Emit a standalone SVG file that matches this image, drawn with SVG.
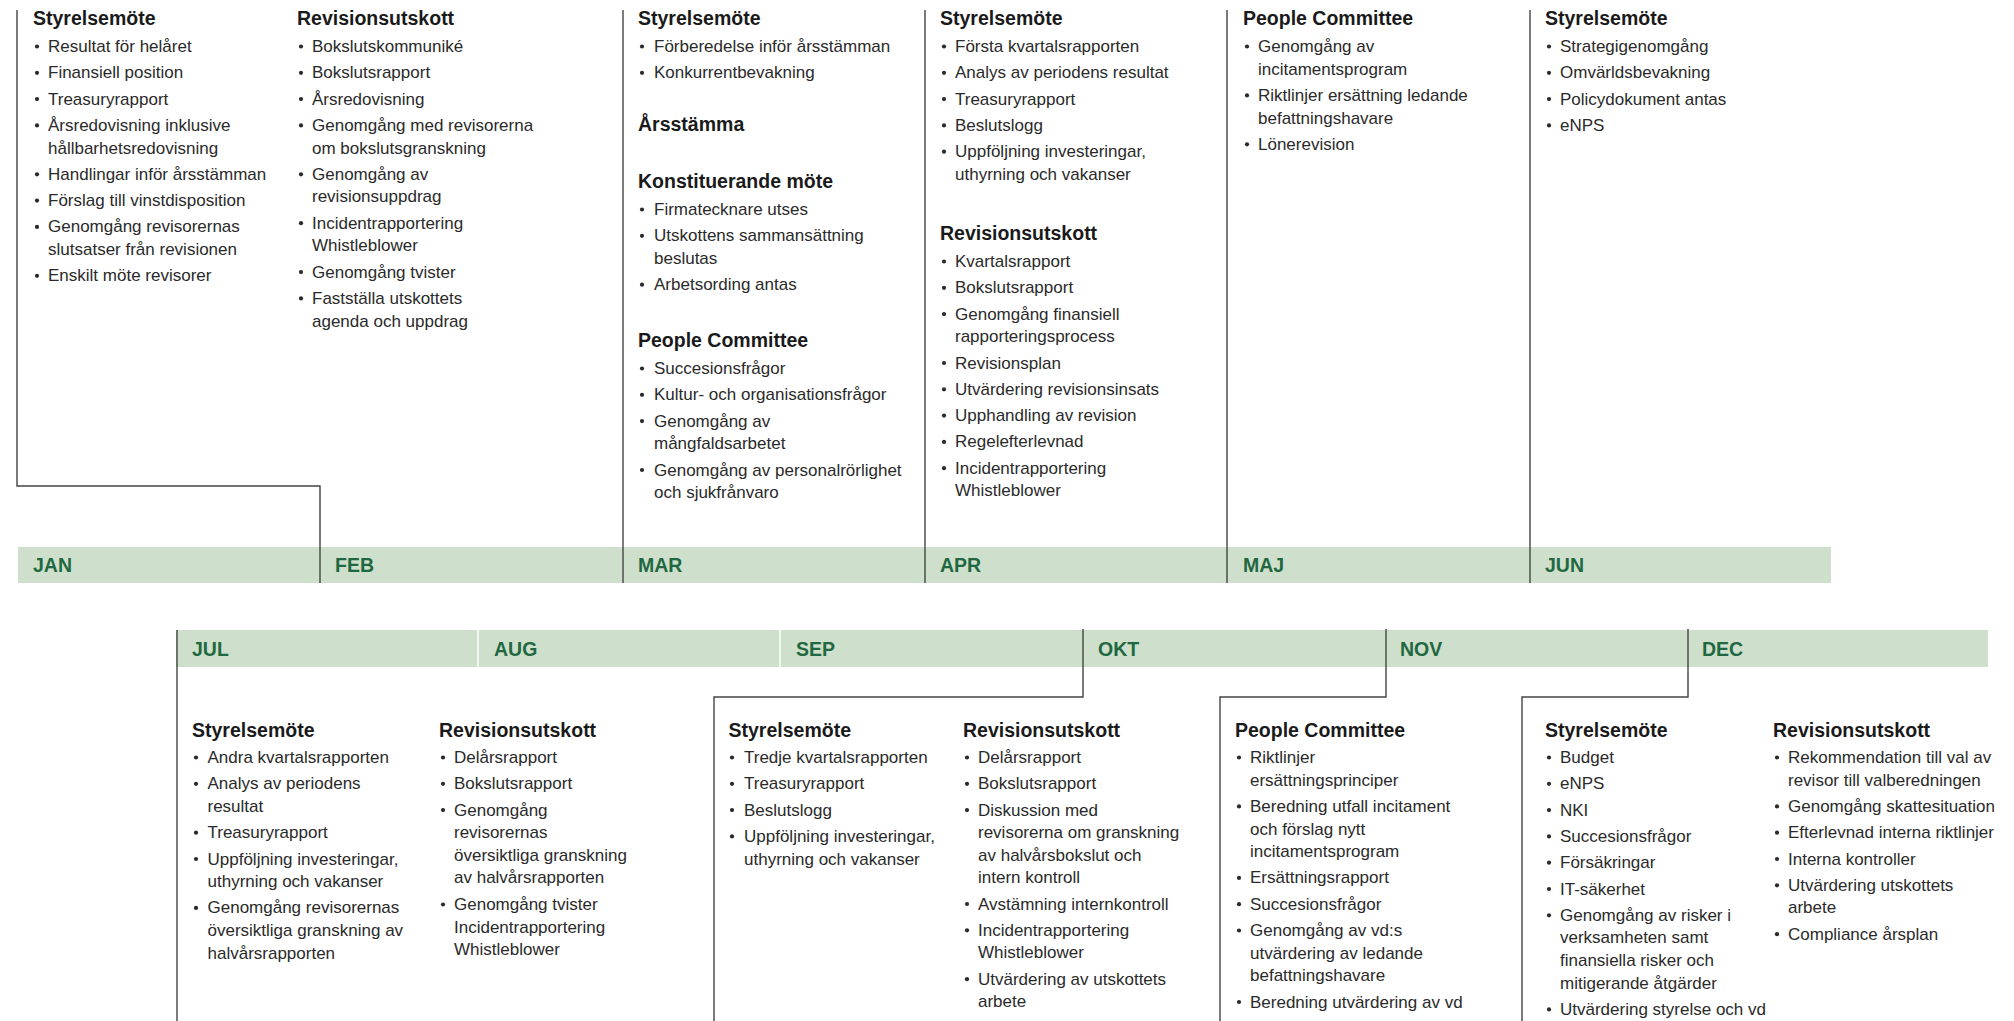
<svg xmlns="http://www.w3.org/2000/svg" width="2014" height="1021" viewBox="0 0 2014 1021">
<defs>
<style>
.t{font-family:"Liberation Sans",Arial,sans-serif;font-weight:bold;font-size:19.5px;fill:#1a1a1a}
.i{font-family:"Liberation Sans",Arial,sans-serif;font-size:17px;fill:#2a2a2a}
.m{font-family:"Liberation Sans",Arial,sans-serif;font-weight:bold;font-size:19.5px;fill:#1f6842}
.band{fill:#cee0cb}
.sep{stroke:#ffffff;stroke-width:1.5}
.ln{fill:none;stroke:#444444;stroke-width:1.4}
.b{fill:#2a2a2a}
</style>
<circle id="dot" r="2.1"/>
</defs>
<rect width="2014" height="1021" fill="#ffffff"/>

<g id="timeline">
<rect class="band" x="18" y="547" width="1813" height="36"/>
<rect class="band" x="176" y="630" width="1812" height="37"/>
<line class="sep" x1="478" y1="630" x2="478" y2="667"/>
<line class="sep" x1="780" y1="630" x2="780" y2="667"/>
<text class="m" x="33" y="572">JAN</text>
<text class="m" x="335" y="572">FEB</text>
<text class="m" x="638" y="572">MAR</text>
<text class="m" x="940" y="572">APR</text>
<text class="m" x="1243" y="572">MAJ</text>
<text class="m" x="1545" y="572">JUN</text>
<text class="m" x="192" y="656">JUL</text>
<text class="m" x="494" y="656">AUG</text>
<text class="m" x="796" y="656">SEP</text>
<text class="m" x="1098" y="656">OKT</text>
<text class="m" x="1400" y="656">NOV</text>
<text class="m" x="1702" y="656">DEC</text>
</g>

<g id="connectors">
<polyline class="ln" points="17,10 17,486 320,486 320,583"/>
<line class="ln" x1="623" y1="10" x2="623" y2="583"/>
<line class="ln" x1="925" y1="10" x2="925" y2="583"/>
<line class="ln" x1="1227" y1="10" x2="1227" y2="583"/>
<line class="ln" x1="1530" y1="10" x2="1530" y2="583"/>
<line class="ln" x1="177" y1="630" x2="177" y2="1021"/>
<polyline class="ln" points="1083,629 1083,697 714,697 714,1021"/>
<polyline class="ln" points="1386,629 1386,697 1220,697 1220,1021"/>
<polyline class="ln" points="1688,629 1688,697 1522,697 1522,1021"/>
</g>

<g id="jan">
<text class="t" x="33" y="25">Styrelsemöte</text>
<g class="b">
<use href="#dot" x="37" y="46.5"/><use href="#dot" x="37" y="72.8"/><use href="#dot" x="37" y="99.1"/><use href="#dot" x="37" y="125.4"/><use href="#dot" x="37" y="174.3"/><use href="#dot" x="37" y="200.6"/><use href="#dot" x="37" y="226.9"/><use href="#dot" x="37" y="275.8"/>
</g>
<text class="i">
<tspan x="48" y="52">Resultat för helåret</tspan>
<tspan x="48" y="78.3">Finansiell position</tspan>
<tspan x="48" y="104.6">Treasuryrapport</tspan>
<tspan x="48" y="130.9">Årsredovisning inklusive</tspan>
<tspan x="48" y="153.5">hållbarhetsredovisning</tspan>
<tspan x="48" y="179.8">Handlingar inför årsstämman</tspan>
<tspan x="48" y="206.1">Förslag till vinstdisposition</tspan>
<tspan x="48" y="232.4">Genomgång revisorernas</tspan>
<tspan x="48" y="255">slutsatser från revisionen</tspan>
<tspan x="48" y="281.3">Enskilt möte revisorer</tspan>
</text>
<text class="t" x="297" y="25">Revisionsutskott</text>
<g class="b">
<use href="#dot" x="301" y="46.5"/><use href="#dot" x="301" y="72.8"/><use href="#dot" x="301" y="99.1"/><use href="#dot" x="301" y="125.4"/><use href="#dot" x="301" y="174.3"/><use href="#dot" x="301" y="223.2"/><use href="#dot" x="301" y="272.1"/><use href="#dot" x="301" y="298.4"/>
</g>
<text class="i">
<tspan x="312" y="52">Bokslutskommuniké</tspan>
<tspan x="312" y="78.3">Bokslutsrapport</tspan>
<tspan x="312" y="104.6">Årsredovisning</tspan>
<tspan x="312" y="130.9">Genomgång med revisorerna</tspan>
<tspan x="312" y="153.5">om bokslutsgranskning</tspan>
<tspan x="312" y="179.8">Genomgång av</tspan>
<tspan x="312" y="202.4">revisionsuppdrag</tspan>
<tspan x="312" y="228.7">Incidentrapportering</tspan>
<tspan x="312" y="251.3">Whistleblower</tspan>
<tspan x="312" y="277.6">Genomgång tvister</tspan>
<tspan x="312" y="303.9">Fastställa utskottets</tspan>
<tspan x="312" y="326.5">agenda och uppdrag</tspan>
</text>
</g>

<g id="mar">
<text class="t" x="638" y="25">Styrelsemöte</text>
<text class="t" x="638" y="131">Årsstämma</text>
<text class="t" x="638" y="188">Konstituerande möte</text>
<text class="t" x="638" y="347">People Committee</text>
<g class="b">
<use href="#dot" x="642" y="46.5"/><use href="#dot" x="642" y="72.8"/>
<use href="#dot" x="642" y="209.5"/><use href="#dot" x="642" y="235.8"/><use href="#dot" x="642" y="284.7"/>
<use href="#dot" x="642" y="368.5"/><use href="#dot" x="642" y="394.8"/><use href="#dot" x="642" y="421.1"/><use href="#dot" x="642" y="470"/>
</g>
<text class="i">
<tspan x="654" y="52">Förberedelse inför årsstämman</tspan>
<tspan x="654" y="78.3">Konkurrentbevakning</tspan>
<tspan x="654" y="215">Firmatecknare utses</tspan>
<tspan x="654" y="241.3">Utskottens sammansättning</tspan>
<tspan x="654" y="263.9">beslutas</tspan>
<tspan x="654" y="290.2">Arbetsording antas</tspan>
<tspan x="654" y="374">Succesionsfrågor</tspan>
<tspan x="654" y="400.3">Kultur- och organisationsfrågor</tspan>
<tspan x="654" y="426.6">Genomgång av</tspan>
<tspan x="654" y="449.2">mångfaldsarbetet</tspan>
<tspan x="654" y="475.5">Genomgång av personalrörlighet</tspan>
<tspan x="654" y="498.1">och sjukfrånvaro</tspan>
</text>
</g>

<g id="apr">
<text class="t" x="940" y="25">Styrelsemöte</text>
<text class="t" x="940" y="240">Revisionsutskott</text>
<g class="b">
<use href="#dot" x="944" y="46.5"/><use href="#dot" x="944" y="72.8"/><use href="#dot" x="944" y="99.1"/><use href="#dot" x="944" y="125.4"/><use href="#dot" x="944" y="151.7"/>
<use href="#dot" x="944" y="261.5"/><use href="#dot" x="944" y="287.8"/><use href="#dot" x="944" y="314.1"/><use href="#dot" x="944" y="363"/><use href="#dot" x="944" y="389.3"/><use href="#dot" x="944" y="415.6"/><use href="#dot" x="944" y="441.9"/><use href="#dot" x="944" y="468.2"/>
</g>
<text class="i">
<tspan x="955" y="52">Första kvartalsrapporten</tspan>
<tspan x="955" y="78.3">Analys av periodens resultat</tspan>
<tspan x="955" y="104.6">Treasuryrapport</tspan>
<tspan x="955" y="130.9">Beslutslogg</tspan>
<tspan x="955" y="157.2">Uppföljning investeringar,</tspan>
<tspan x="955" y="179.8">uthyrning och vakanser</tspan>
<tspan x="955" y="267">Kvartalsrapport</tspan>
<tspan x="955" y="293.3">Bokslutsrapport</tspan>
<tspan x="955" y="319.6">Genomgång finansiell</tspan>
<tspan x="955" y="342.2">rapporteringsprocess</tspan>
<tspan x="955" y="368.5">Revisionsplan</tspan>
<tspan x="955" y="394.8">Utvärdering revisionsinsats</tspan>
<tspan x="955" y="421.1">Upphandling av revision</tspan>
<tspan x="955" y="447.4">Regelefterlevnad</tspan>
<tspan x="955" y="473.7">Incidentrapportering</tspan>
<tspan x="955" y="496.3">Whistleblower</tspan>
</text>
</g>

<g id="maj">
<text class="t" x="1243" y="25">People Committee</text>
<g class="b">
<use href="#dot" x="1247" y="46.5"/><use href="#dot" x="1247" y="95.4"/><use href="#dot" x="1247" y="144.3"/>
</g>
<text class="i">
<tspan x="1258" y="52">Genomgång av</tspan>
<tspan x="1258" y="74.6">incitamentsprogram</tspan>
<tspan x="1258" y="100.9">Riktlinjer ersättning ledande</tspan>
<tspan x="1258" y="123.5">befattningshavare</tspan>
<tspan x="1258" y="149.8">Lönerevision</tspan>
</text>
</g>

<g id="jun">
<text class="t" x="1545" y="25">Styrelsemöte</text>
<g class="b">
<use href="#dot" x="1549" y="46.5"/><use href="#dot" x="1549" y="72.8"/><use href="#dot" x="1549" y="99.1"/><use href="#dot" x="1549" y="125.4"/>
</g>
<text class="i">
<tspan x="1560" y="52">Strategigenomgång</tspan>
<tspan x="1560" y="78.3">Omvärldsbevakning</tspan>
<tspan x="1560" y="104.6">Policydokument antas</tspan>
<tspan x="1560" y="130.9">eNPS</tspan>
</text>
</g>

<g id="jul">
<text class="t" x="192" y="737">Styrelsemöte</text>
<g class="b">
<use href="#dot" x="196" y="757.5"/><use href="#dot" x="196" y="783.8"/><use href="#dot" x="196" y="832.7"/><use href="#dot" x="196" y="859"/><use href="#dot" x="196" y="907.9"/>
</g>
<text class="i">
<tspan x="207.5" y="763">Andra kvartalsrapporten</tspan>
<tspan x="207.5" y="789.3">Analys av periodens</tspan>
<tspan x="207.5" y="811.9">resultat</tspan>
<tspan x="207.5" y="838.2">Treasuryrapport</tspan>
<tspan x="207.5" y="864.5">Uppföljning investeringar,</tspan>
<tspan x="207.5" y="887.1">uthyrning och vakanser</tspan>
<tspan x="207.5" y="913.4">Genomgång revisorernas</tspan>
<tspan x="207.5" y="936">översiktliga granskning av</tspan>
<tspan x="207.5" y="958.6">halvårsrapporten</tspan>
</text>
<text class="t" x="439" y="737">Revisionsutskott</text>
<g class="b">
<use href="#dot" x="443" y="757.5"/><use href="#dot" x="443" y="783.8"/><use href="#dot" x="443" y="810.1"/><use href="#dot" x="443" y="904.5"/>
</g>
<text class="i">
<tspan x="454" y="763">Delårsrapport</tspan>
<tspan x="454" y="789.3">Bokslutsrapport</tspan>
<tspan x="454" y="815.6">Genomgång</tspan>
<tspan x="454" y="838.2">revisorernas</tspan>
<tspan x="454" y="860.8">översiktliga granskning</tspan>
<tspan x="454" y="883.4">av halvårsrapporten</tspan>
<tspan x="454" y="910">Genomgång tvister</tspan>
<tspan x="454" y="932.6">Incidentrapportering</tspan>
<tspan x="454" y="955.2">Whistleblower</tspan>
</text>
</g>

<g id="okt">
<text class="t" x="728.5" y="737">Styrelsemöte</text>
<g class="b">
<use href="#dot" x="732" y="757.5"/><use href="#dot" x="732" y="783.8"/><use href="#dot" x="732" y="810.1"/><use href="#dot" x="732" y="836.4"/>
</g>
<text class="i">
<tspan x="744" y="763">Tredje kvartalsrapporten</tspan>
<tspan x="744" y="789.3">Treasuryrapport</tspan>
<tspan x="744" y="815.6">Beslutslogg</tspan>
<tspan x="744" y="841.9">Uppföljning investeringar,</tspan>
<tspan x="744" y="864.5">uthyrning och vakanser</tspan>
</text>
<text class="t" x="963" y="737">Revisionsutskott</text>
<g class="b">
<use href="#dot" x="967" y="757.5"/><use href="#dot" x="967" y="783.8"/><use href="#dot" x="967" y="810.1"/><use href="#dot" x="967" y="904"/><use href="#dot" x="967" y="930.3"/><use href="#dot" x="967" y="979.2"/>
</g>
<text class="i">
<tspan x="978" y="763">Delårsrapport</tspan>
<tspan x="978" y="789.3">Bokslutsrapport</tspan>
<tspan x="978" y="815.6">Diskussion med</tspan>
<tspan x="978" y="838.2">revisorerna om granskning</tspan>
<tspan x="978" y="860.8">av halvårsbokslut och</tspan>
<tspan x="978" y="883.4">intern kontroll</tspan>
<tspan x="978" y="909.5">Avstämning internkontroll</tspan>
<tspan x="978" y="935.8">Incidentrapportering</tspan>
<tspan x="978" y="958.4">Whistleblower</tspan>
<tspan x="978" y="984.7">Utvärdering av utskottets</tspan>
<tspan x="978" y="1007.3">arbete</tspan>
</text>
</g>

<g id="nov">
<text class="t" x="1235" y="737">People Committee</text>
<g class="b">
<use href="#dot" x="1239" y="757.5"/><use href="#dot" x="1239" y="806.4"/><use href="#dot" x="1239" y="877.9"/><use href="#dot" x="1239" y="904.2"/><use href="#dot" x="1239" y="930.5"/><use href="#dot" x="1239" y="1002"/>
</g>
<text class="i">
<tspan x="1250" y="763">Riktlinjer</tspan>
<tspan x="1250" y="785.6">ersättningsprinciper</tspan>
<tspan x="1250" y="811.9">Beredning utfall incitament</tspan>
<tspan x="1250" y="834.5">och förslag nytt</tspan>
<tspan x="1250" y="857.1">incitamentsprogram</tspan>
<tspan x="1250" y="883.4">Ersättningsrapport</tspan>
<tspan x="1250" y="909.7">Succesionsfrågor</tspan>
<tspan x="1250" y="936">Genomgång av vd:s</tspan>
<tspan x="1250" y="958.6">utvärdering av ledande</tspan>
<tspan x="1250" y="981.2">befattningshavare</tspan>
<tspan x="1250" y="1007.5">Beredning utvärdering av vd</tspan>
</text>
</g>

<g id="dec">
<text class="t" x="1545" y="737">Styrelsemöte</text>
<g class="b">
<use href="#dot" x="1549" y="757.5"/><use href="#dot" x="1549" y="783.8"/><use href="#dot" x="1549" y="810.1"/><use href="#dot" x="1549" y="836.4"/><use href="#dot" x="1549" y="862.7"/><use href="#dot" x="1549" y="889"/><use href="#dot" x="1549" y="915.3"/><use href="#dot" x="1549" y="1009.4"/>
</g>
<text class="i">
<tspan x="1560" y="763">Budget</tspan>
<tspan x="1560" y="789.3">eNPS</tspan>
<tspan x="1560" y="815.6">NKI</tspan>
<tspan x="1560" y="841.9">Succesionsfrågor</tspan>
<tspan x="1560" y="868.2">Försäkringar</tspan>
<tspan x="1560" y="894.5">IT-säkerhet</tspan>
<tspan x="1560" y="920.8">Genomgång av risker i</tspan>
<tspan x="1560" y="943.4">verksamheten samt</tspan>
<tspan x="1560" y="966">finansiella risker och</tspan>
<tspan x="1560" y="988.6">mitigerande åtgärder</tspan>
<tspan x="1560" y="1014.9">Utvärdering styrelse och vd</tspan>
</text>
<text class="t" x="1773" y="737">Revisionsutskott</text>
<g class="b">
<use href="#dot" x="1777" y="757.5"/><use href="#dot" x="1777" y="806.4"/><use href="#dot" x="1777" y="832.7"/><use href="#dot" x="1777" y="859"/><use href="#dot" x="1777" y="885.3"/><use href="#dot" x="1777" y="934.2"/>
</g>
<text class="i">
<tspan x="1788" y="763">Rekommendation till val av</tspan>
<tspan x="1788" y="785.6">revisor till valberedningen</tspan>
<tspan x="1788" y="811.9">Genomgång skattesituation</tspan>
<tspan x="1788" y="838.2">Efterlevnad interna riktlinjer</tspan>
<tspan x="1788" y="864.5">Interna kontroller</tspan>
<tspan x="1788" y="890.8">Utvärdering utskottets</tspan>
<tspan x="1788" y="913.4">arbete</tspan>
<tspan x="1788" y="939.7">Compliance årsplan</tspan>
</text>
</g>
</svg>
